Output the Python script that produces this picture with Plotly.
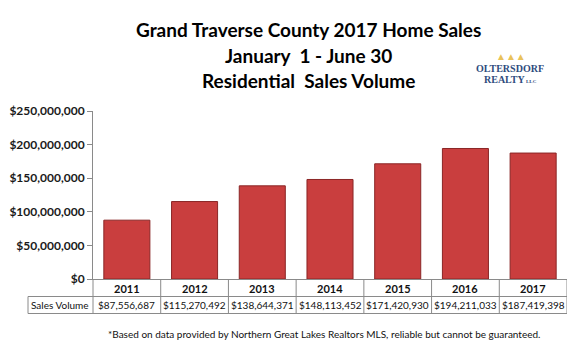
import plotly.graph_objects as go

years = ["2011", "2012", "2013", "2014", "2015", "2016", "2017"]
sales_volume = [87556687, 115270492, 138644371, 148113452, 171420930, 194211033, 187419398]
sales_labels = ["$87,556,687", "$115,270,492", "$138,644,371", "$148,113,452",
                "$171,420,930", "$194,211,033", "$187,419,398"]
y_tickvals = [0, 50000000, 100000000, 150000000, 200000000, 250000000]
y_ticktext = ["$0", "$50,000,000", "$100,000,000", "$150,000,000", "$200,000,000", "$250,000,000"]

FONT = "Lato, 'Open Sans', sans-serif"
GRID = "#8a8a8a"

fig = go.Figure()
fig.add_trace(go.Bar(
    x=years, y=sales_volume,
    marker=dict(color="#C93E3E", line=dict(color="#8A2626", width=1)),
    hoverinfo="x+y",
))

W, H = 570, 355
L, R, T, B = 93, 3, 111, 76
ph = H - T - B
pw = W - L - R

def py(Y):
    return (H - B - Y) / ph

def px(X):
    return (X - L) / pw

fig.update_layout(
    width=W, height=H,
    margin=dict(l=L, r=R, t=T, b=B),
    paper_bgcolor="white", plot_bgcolor="white",
    showlegend=False,
    bargap=0.32,
    font=dict(family=FONT, color="#111"),
    xaxis=dict(type="category", showticklabels=False, showline=True,
               linecolor=GRID, linewidth=1, ticks="", showgrid=False,
               range=[-0.5, 6.5], fixedrange=True),
    yaxis=dict(range=[0, 250000000], tickvals=y_tickvals, ticktext=y_ticktext,
               showgrid=False, showline=True, linecolor=GRID, linewidth=1,
               ticks="outside", ticklen=5, tickcolor=GRID,
               tickfont=dict(family=FONT, size=12, color="#1a1a1a", weight="bold"),
               zeroline=False, fixedrange=True),
)

annotations = []
# title
for txt, Y in [("Grand Traverse County 2017 Home Sales", 30),
               ("January  1 - June 30", 55),
               ("Residential  Sales Volume", 80)]:
    annotations.append(dict(text=txt, xref="paper", yref="paper",
                            x=px(308), y=py(Y), xanchor="center", yanchor="middle",
                            showarrow=False,
                            font=dict(family=FONT, size=19, color="#000", weight="bold")))

# logo
annotations.append(dict(text="▲▲▲", xref="paper", yref="paper", x=px(511), y=py(56),
                        xanchor="center", yanchor="middle", showarrow=False,
                        font=dict(size=10, color="#E9C25A")))
annotations.append(dict(text="OLTERSDORF", xref="paper", yref="paper", x=px(510), y=py(68),
                        xanchor="center", yanchor="middle", showarrow=False,
                        font=dict(family="'Liberation Serif', serif", size=10, color="#2F4C7E", weight="bold")))
annotations.append(dict(text="REALTY<span style='font-size:5px'> LLC</span>", xref="paper", yref="paper",
                        x=px(510), y=py(79), xanchor="center", yanchor="middle", showarrow=False,
                        font=dict(family="'Liberation Serif', serif", size=10, color="#2F4C7E", weight="bold")))

# table
yr_row_y = py(288)
val_row_y = py(305)
for i, (yr, lab) in enumerate(zip(years, sales_labels)):
    annotations.append(dict(text=yr, x=i, xref="x", yref="paper", y=yr_row_y,
                            xanchor="center", yanchor="middle", showarrow=False,
                            font=dict(family=FONT, size=11, color="#111", weight="bold")))
    annotations.append(dict(text=lab, x=i, xref="x", yref="paper", y=val_row_y,
                            xanchor="center", yanchor="middle", showarrow=False,
                            font=dict(family=FONT, size=10, color="#111")))
annotations.append(dict(text="Sales Volume", x=px(60), xref="paper", yref="paper", y=val_row_y,
                        xanchor="center", yanchor="middle", showarrow=False,
                        font=dict(family=FONT, size=10, color="#111")))

# footnote
annotations.append(dict(text="*Based on data provided by Northern Great Lakes Realtors MLS, reliable but cannot be guaranteed.",
                        xref="paper", yref="paper", x=px(324), y=py(334),
                        xanchor="center", yanchor="middle", showarrow=False,
                        font=dict(family=FONT, size=10, color="#111")))
fig.update_layout(annotations=annotations)

shapes = []
row_line = py(296.5)
bottom_line = py(313.5)
for i in range(len(years)):
    shapes.append(dict(type="line", xref="x", yref="paper", x0=i + 0.5, x1=i + 0.5,
                       y0=0, y1=bottom_line, line=dict(color=GRID, width=1)))
shapes.append(dict(type="line", xref="paper", yref="paper", x0=0, x1=0,
                   y0=0, y1=bottom_line, line=dict(color=GRID, width=1)))
for yy in (row_line, bottom_line):
    shapes.append(dict(type="line", xref="paper", yref="paper", x0=px(28), x1=1,
                       y0=yy, y1=yy, line=dict(color=GRID, width=1)))
shapes.append(dict(type="line", xref="paper", yref="paper", x0=px(28), x1=px(28),
                   y0=row_line, y1=bottom_line, line=dict(color=GRID, width=1)))
fig.update_layout(shapes=shapes)

fig.write_html("out.html")
